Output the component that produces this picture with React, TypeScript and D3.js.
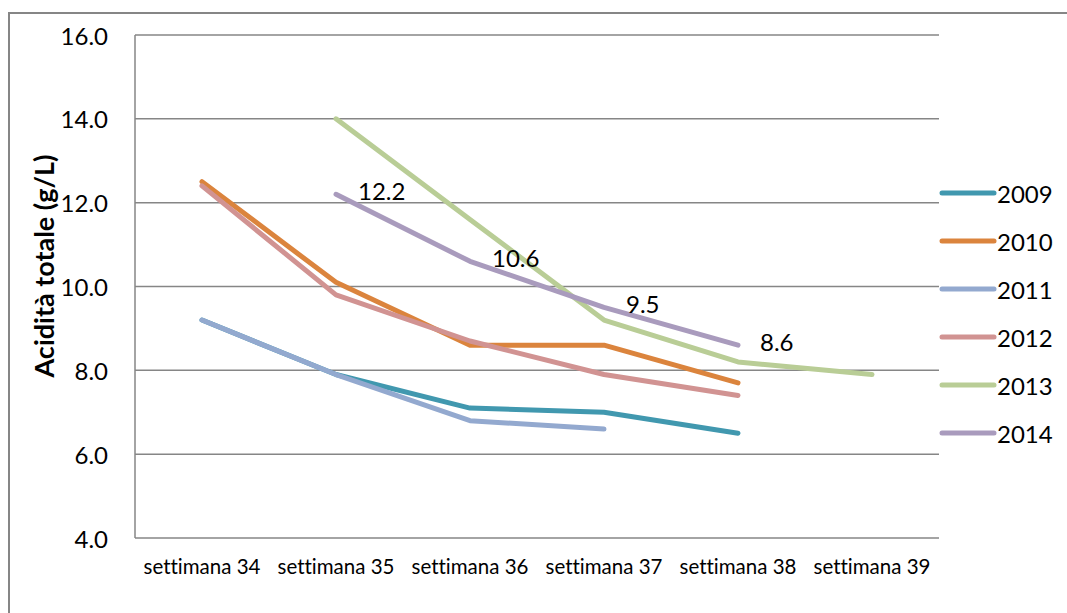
import React from "react";
import * as d3 from "d3";

const categories = ["settimana 34", "settimana 35", "settimana 36", "settimana 37", "settimana 38", "settimana 39"];
const yTicks = [4, 6, 8, 10, 12, 14, 16];

const s2009 = [9.2, 7.9, 7.1, 7.0, 6.5, null];
const s2010 = [12.5, 10.1, 8.6, 8.6, 7.7, null];
const s2011 = [9.2, 7.9, 6.8, 6.6, null, null];
const s2012 = [12.4, 9.8, 8.7, 7.9, 7.4, null];
const s2013 = [null, 14.0, 11.6, 9.2, 8.2, 7.9];
const s2014 = [null, 12.2, 10.6, 9.5, 8.6, null];

const seriesNames = ["2009", "2010", "2011", "2012", "2013", "2014"];
const seriesValues = [s2009, s2010, s2011, s2012, s2013, s2014];
const seriesColors = ["#4198AF", "#DB843D", "#93A9CF", "#D19392", "#B9CD96", "#A99BBD"];
const labelledSeries = "2014";

const FONT = "Lato, 'Open Sans', sans-serif";

export default function App() {
  const W = 1067, H = 613;
  const left = 135, right = 939, top = 35, bottom = 538;
  const x = d3.scalePoint<string>().domain(categories).range([left, right]).padding(0.5);
  const y = d3.scaleLinear().domain([4, 16]).range([bottom, top]);

  const line = d3
    .line<number | null>()
    .defined((d) => d !== null)
    .x((_, i) => x(categories[i]) as number)
    .y((d) => y(d as number));

  const legendX = 940, legendY0 = 193, legendStep = 48;

  return (
    <svg
      width={W}
      height={H}
      style={{ position: "absolute", left: 0, top: 0, background: "#fff", fontVariantLigatures: "none" }}
    >
      <rect x={0} y={0} width={W} height={H} fill="#fff" />
      <path d={`M9,${H} L9,13 L${W},13`} fill="none" stroke="#868686" strokeWidth={2} />
      {yTicks.map((t) => (
        <g key={t}>
          <line x1={left} x2={right} y1={y(t)} y2={y(t)} stroke="#868686" strokeWidth={1.5} />
          <text x={108} y={y(t)} textAnchor="end" dominantBaseline="central" fontFamily={FONT} fontSize={24} fill="#000">
            {t.toFixed(1)}
          </text>
        </g>
      ))}
      <line x1={left} x2={left} y1={top} y2={bottom} stroke="#868686" strokeWidth={1.5} />
      {categories.map((c) => (
        <text key={c} x={x(c)} y={566} textAnchor="middle" dominantBaseline="central" fontFamily={FONT} fontSize={20.5} fill="#000">
          {c}
        </text>
      ))}
      <text
        transform={`translate(43,266) rotate(-90)`}
        textAnchor="middle"
        dominantBaseline="central"
        fontFamily={FONT}
        fontWeight="bold"
        fontSize={27}
        fill="#000"
      >
        Acidità totale (g/L)
      </text>
      {seriesValues.map((vals, si) => (
        <path
          key={seriesNames[si]}
          d={line(vals) || ""}
          fill="none"
          stroke={seriesColors[si]}
          strokeWidth={5}
          strokeLinecap="round"
          strokeLinejoin="round"
        />
      ))}
      {seriesValues.map((vals, si) =>
        seriesNames[si] === labelledSeries
          ? vals.map((v, i) =>
              v === null ? null : (
                <text
                  key={`${si}-${i}`}
                  x={(x(categories[i]) as number) + 22}
                  y={y(v) - 4}
                  dominantBaseline="central"
                  fontFamily={FONT}
                  fontSize={24}
                  fill="#000"
                >
                  {v.toFixed(1)}
                </text>
              )
            )
          : null
      )}
      {seriesNames.map((n, i) => (
        <g key={n}>
          <line
            x1={legendX + 2}
            x2={legendX + 54}
            y1={legendY0 + i * legendStep}
            y2={legendY0 + i * legendStep}
            stroke={seriesColors[i]}
            strokeWidth={5}
            strokeLinecap="round"
          />
          <text x={997} y={legendY0 + i * legendStep} dominantBaseline="central" fontFamily={FONT} fontSize={24} fill="#000">
            {n}
          </text>
        </g>
      ))}
    </svg>
  );
}
